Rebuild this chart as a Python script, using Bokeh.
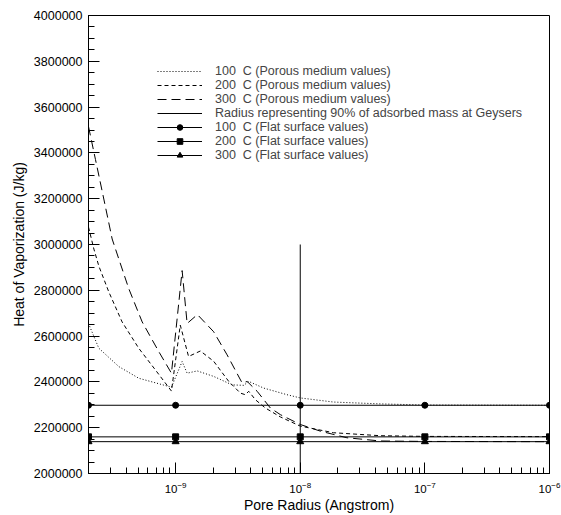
from bokeh.plotting import figure
from bokeh.models import (Legend, LegendItem, SingleIntervalTicker, BasicTickFormatter,
                          LogTicker, Range1d)
from bokeh.embed import file_html
from bokeh.resources import INLINE

# ---------------- data ----------------
# Porous medium values (pore radius, heat of vaporization J/kg)
r_100 = [2.0e-10, 2.42e-10, 3.50e-10, 5.06e-10, 8.81e-10, 9.26e-10, 1.128e-9, 1.237e-9,
         1.49e-9, 2.02e-9, 2.84e-9, 3.52e-9, 3.86e-9, 5.09e-9, 7.84e-9, 1.0e-8,
         1.85e-8, 4.39e-8, 1.0e-7, 1.0e-6]
h_100 = [2655000, 2547000, 2467000, 2416000, 2380000, 2377000, 2489000, 2438000,
         2448000, 2424000, 2387000, 2385000, 2402000, 2373000, 2344000, 2330000,
         2312000, 2304000, 2299000, 2298000]

r_200 = [2.0e-10, 2.21e-10, 2.42e-10, 2.91e-10, 3.72e-10, 5.06e-10, 6.89e-10, 9.26e-10,
         1.09e-9, 1.27e-9, 1.58e-9, 2.02e-9, 2.67e-9, 3.31e-9, 3.63e-9, 3.86e-9,
         4.37e-9, 5.25e-9, 6.93e-9, 1.0e-8, 1.85e-8, 4.39e-8, 1.0e-7, 1.0e-6]
h_200 = [3076000, 2980000, 2906000, 2793000, 2662000, 2547000, 2452000, 2360000,
         2648000, 2511000, 2535000, 2490000, 2402000, 2351000, 2344000, 2359000,
         2322000, 2286000, 2247000, 2207000, 2178000, 2165000, 2162000, 2161000]

r_300 = [2.0e-10, 2.275e-10, 2.576e-10, 3.097e-10, 3.50e-10, 4.21e-10, 5.39e-10, 7.33e-10,
         9.26e-10, 1.128e-9, 1.237e-9, 1.496e-9, 2.02e-9, 2.59e-9, 3.42e-9, 3.75e-9,
         4.51e-9, 5.76e-9, 6.93e-9, 1.0e-8, 1.45e-8, 2.37e-8, 4.39e-8, 1.0e-7, 1.0e-6]
h_300 = [3515000, 3371000, 3232000, 3024000, 2937000, 2807000, 2662000, 2532000,
         2438000, 2886000, 2655000, 2694000, 2619000, 2518000, 2395000, 2402000,
         2359000, 2286000, 2257000, 2214000, 2185000, 2156000, 2142000, 2140000, 2139000]

# Radius representing 90% of adsorbed mass at Geysers
r_90 = [1.0e-8, 1.0e-8]
h_90 = [2000000, 3000000]

# Flat surface values
r_flat = [2.0e-10, 1.0e-9, 1.0e-8, 1.0e-7, 1.0e-6]
h_flat_100 = [2298000] * 5
h_flat_200 = [2160000] * 5
h_flat_300 = [2139000] * 5

labels = ["100  C (Porous medium values)",
          "200  C (Porous medium values)",
          "300  C (Porous medium values)",
          "Radius representing 90% of adsorbed mass at Geysers",
          "100  C (Flat surface values)",
          "200  C (Flat surface values)",
          "300  C (Flat surface values)"]

FONT = "Liberation Sans"

p = figure(width=561, height=515, x_axis_type="log",
           x_range=Range1d(2e-10, 1e-6), y_range=Range1d(2000000, 4000000),
           output_backend="svg", toolbar_location=None,
           min_border_left=88, min_border_right=12, min_border_top=15,
           min_border_bottom=39)
p.grid.visible = False
p.outline_line_color = "black"
p.outline_line_width = 1
p.background_fill_color = "white"

l100 = p.line(r_100, h_100, line_color="black", line_width=1, line_dash="1 2")
l200 = p.line(r_200, h_200, line_color="black", line_width=1, line_dash="4 3")
l300 = p.line(r_300, h_300, line_color="black", line_width=1, line_dash="9 5")
l90 = p.line(r_90, h_90, line_color="black", line_width=1)

f100 = p.line(r_flat, h_flat_100, line_color="black", line_width=1)
m100 = p.scatter(r_flat, h_flat_100, marker="circle", size=6, color="black")
f200 = p.line(r_flat, h_flat_200, line_color="black", line_width=1)
m200 = p.scatter(r_flat, h_flat_200, marker="square", size=6, color="black")
f300 = p.line(r_flat, h_flat_300, line_color="black", line_width=1)
m300 = p.scatter(r_flat, h_flat_300, marker="triangle", size=7, color="black")

items = [LegendItem(label=labels[0], renderers=[l100]),
         LegendItem(label=labels[1], renderers=[l200]),
         LegendItem(label=labels[2], renderers=[l300]),
         LegendItem(label=labels[3], renderers=[l90]),
         LegendItem(label=labels[4], renderers=[f100, m100]),
         LegendItem(label=labels[5], renderers=[f200, m200]),
         LegendItem(label=labels[6], renderers=[f300, m300])]
legend = Legend(items=items, location=(69, 311), padding=0, margin=0, spacing=0,
                glyph_width=45, glyph_height=14, label_height=14, label_standoff=13,
                label_text_font=FONT, label_text_font_size="12.5px",
                background_fill_alpha=0, border_line_alpha=0)
p.add_layout(legend, "center")

# axes
p.yaxis.ticker = SingleIntervalTicker(interval=200000, num_minor_ticks=4)
p.yaxis.formatter = BasicTickFormatter(use_scientific=False)
p.xaxis.ticker = LogTicker(mantissas=[1], desired_num_ticks=5, num_minor_ticks=10)

for ax in (p.xaxis[0], p.yaxis[0]):
    ax.axis_line_color = "black"
    ax.major_tick_line_color = "black"
    ax.minor_tick_line_color = "black"
    ax.major_tick_in = 11
    ax.major_tick_out = 0
    ax.minor_tick_in = 6
    ax.minor_tick_out = 0
    ax.major_label_text_font = FONT
    ax.major_label_text_color = "black"
    ax.axis_label_text_font = FONT
    ax.axis_label_text_font_style = "normal"
    ax.axis_label_text_font_size = "14px"
    ax.axis_label_text_color = "black"

p.yaxis.major_label_text_font_size = "12.5px"
p.yaxis.major_label_standoff = 6
p.yaxis.axis_label = "Heat of Vaporization (J/kg)"
p.yaxis.axis_label_standoff = 4

p.xaxis.major_label_text_font_size = "11.5px"
p.xaxis.major_label_standoff = 8
p.xaxis.axis_label = "Pore Radius (Angstrom)"
p.xaxis.axis_label_standoff = 1

open("out.html", "w").write(file_html(p, INLINE))
